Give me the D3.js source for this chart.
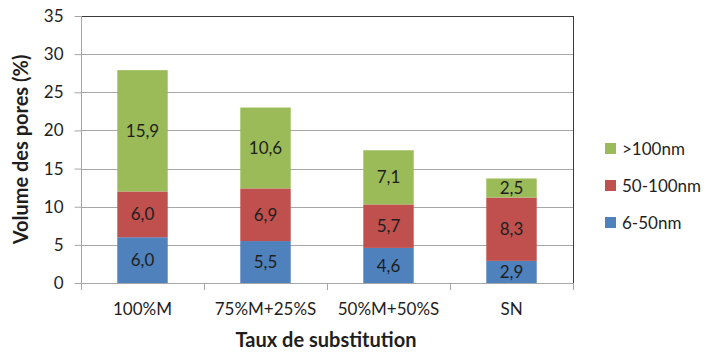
<!DOCTYPE html>
<html>
<head>
<meta charset="utf-8">
<script src="https://cdn.jsdelivr.net/npm/d3@7"></script>
<style>
  html, body { margin: 0; padding: 0; background: #fff; }
  svg { display: block; font-family: Lato, "Open Sans", sans-serif; }
</style>
</head>
<body>
<svg id="chart" width="709" height="354"></svg>
<script>
// Pore volume by substitution rate, stacked by pore-size class
const categories = ["100%M", "75%M+25%S", "50%M+50%S", "SN"];
const seriesNames = ["6-50nm", "50-100nm", ">100nm"];
const small = [6.0, 5.5, 4.6, 2.9];      // 6-50nm
const medium = [6.0, 6.9, 5.7, 8.3];     // 50-100nm
const large = [15.9, 10.6, 7.1, 2.5];    // >100nm
const yTicks = [0, 5, 10, 15, 20, 25, 30, 35];
const colors = ["#4F81BD", "#C0504D", "#9BBB59"];

const rows = categories.map((c, i) => ({
  cat: c, "6-50nm": small[i], "50-100nm": medium[i], ">100nm": large[i]
}));

const svg = d3.select("#chart");
const plotLeft = 81, plotRight = 573, plotTop = 16, plotBottom = 283;
const textColor = "#1e1e1e";

const x = d3.scaleBand().domain(categories).range([plotLeft, plotRight]).paddingInner(0.59).paddingOuter(0.295);
const y = d3.scaleLinear().domain([0, 35]).range([plotBottom, plotTop]);
const fr = d3.formatLocale({ decimal: ",", thousands: " ", grouping: [3], currency: ["", ""] }).format(".1f");

// horizontal gridlines
svg.append("g").selectAll("line").data(yTicks.filter(t => t > 0 && t < 35)).join("line")
  .attr("x1", plotLeft).attr("x2", plotRight)
  .attr("y1", d => Math.round(y(d)) + 0.5).attr("y2", d => Math.round(y(d)) + 0.5)
  .attr("stroke", "#a6a6a6").attr("stroke-width", 1);

// top and right frame
svg.append("line").attr("x1", plotLeft).attr("x2", plotRight + 0.5)
  .attr("y1", y(35) + 0.5).attr("y2", y(35) + 0.5).attr("stroke", "#3a3a3a");
svg.append("line").attr("x1", plotRight + 0.5).attr("x2", plotRight + 0.5)
  .attr("y1", y(35)).attr("y2", plotBottom).attr("stroke", "#3a3a3a");

// stacked bars
const stack = d3.stack().keys(seriesNames)(rows);
const layers = svg.append("g").selectAll("g").data(stack).join("g")
  .attr("fill", (d, i) => colors[i]);
layers.selectAll("rect").data(d => d).join("rect")
  .attr("x", d => x(d.data.cat))
  .attr("width", x.bandwidth())
  .attr("y", d => y(d[1]))
  .attr("height", d => y(d[0]) - y(d[1]));

// segment value labels
layers.selectAll("text").data(d => d.map(p => ({ p, key: d.key }))).join("text")
  .attr("x", d => x(d.p.data.cat) + x.bandwidth() / 2)
  .attr("y", d => (y(d.p[0]) + y(d.p[1])) / 2)
  .attr("dy", "0.36em")
  .attr("text-anchor", "middle")
  .attr("fill", textColor)
  .attr("font-size", 17)
  .text(d => fr(d.p.data[d.key]));

// y axis
const yAxis = svg.append("g").attr("transform", `translate(${plotLeft + 0.5},0)`)
  .call(d3.axisLeft(y).tickValues(yTicks).tickSize(7).tickPadding(11).tickFormat(d3.format("d")));
yAxis.select(".domain").attr("stroke", "#a6a6a6").attr("d", `M0,${plotTop}V${plotBottom}`);
yAxis.selectAll(".tick line").attr("stroke", "#a6a6a6");
yAxis.selectAll(".tick text").attr("fill", textColor).attr("font-size", 17).attr("font-family", "Lato, sans-serif");

// x axis
const xAxis = svg.append("g").attr("transform", `translate(0,${plotBottom + 0.5})`)
  .call(d3.axisBottom(x).tickSize(0).tickPadding(19));
xAxis.select(".domain").attr("stroke", "#a6a6a6").attr("d", `M${plotLeft},0H${plotRight}`);
xAxis.selectAll(".tick text").attr("fill", textColor).attr("font-size", 17).attr("font-family", "Lato, sans-serif");
// category boundary ticks
const step = x.step();
svg.append("g").selectAll("line").data(d3.range(categories.length + 1)).join("line")
  .attr("x1", i => Math.round(plotLeft + i * step) + 0.5).attr("x2", i => Math.round(plotLeft + i * step) + 0.5)
  .attr("y1", plotBottom).attr("y2", plotBottom + 7)
  .attr("stroke", "#a6a6a6");

// axis titles
svg.append("text")
  .attr("transform", `translate(21,${(plotTop + plotBottom) / 2}) rotate(-90)`)
  .attr("text-anchor", "middle").attr("dy", "0.36em")
  .attr("font-weight", "bold").attr("font-size", 20).attr("fill", textColor)
  .text("Volume des pores (%)");
svg.append("text")
  .attr("x", 326).attr("y", 347)
  .attr("text-anchor", "middle")
  .attr("font-weight", "bold").attr("font-size", 20).attr("fill", textColor)
  .text("Taux de substitution");

// legend (top entry is the top of the stack)
const legendItems = seriesNames.slice().reverse();
const lg = svg.append("g").selectAll("g").data(legendItems).join("g")
  .attr("transform", (d, i) => `translate(605,${143 + i * 37})`);
lg.append("rect").attr("width", 11).attr("height", 11)
  .attr("fill", d => colors[seriesNames.indexOf(d)]);
lg.append("text").attr("x", 17).attr("y", 5.5).attr("dy", "0.36em")
  .attr("font-size", 17).attr("fill", textColor).text(d => d);
</script>
</body>
</html>
